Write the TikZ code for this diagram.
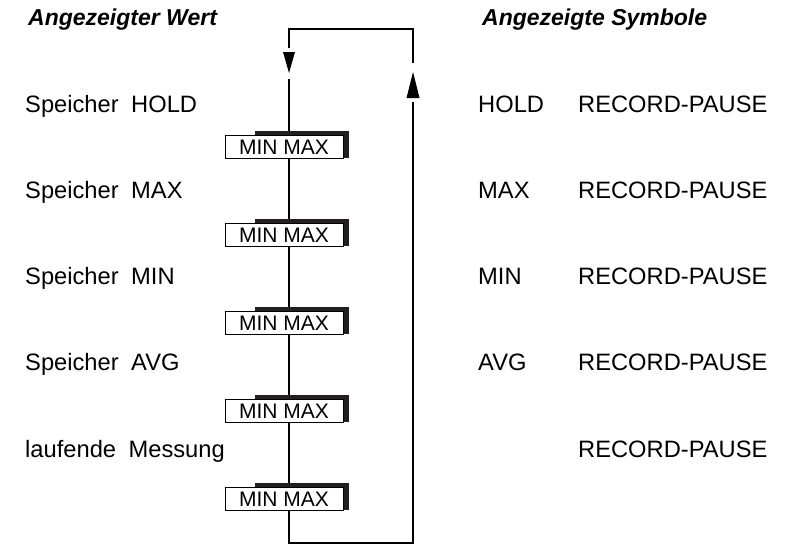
\documentclass[tikz,border=0pt]{standalone}
\usepackage{fontspec}
\setmainfont{Liberation Sans}
\usetikzlibrary{backgrounds}
\definecolor{shadowc}{HTML}{231F20}
\newcommand{\wgap}{\hspace{12.5pt}}
\begin{document}
\begin{tikzpicture}[x=1pt,y=-1pt,
  lbl/.style={anchor=base west,inner sep=0pt,font=\fontsize{23.7}{28}\selectfont},
  head/.style={anchor=base west,inner sep=0pt,font=\fontsize{23}{28}\selectfont\bfseries\itshape},
  btn/.style={draw=black,line width=1pt,fill=white,minimum width=118pt,minimum height=23pt,inner sep=0pt,font=\fontsize{21}{24}\selectfont},
  shade/.style={fill=shadowc},
  flow/.style={line width=1.2pt},
  tipfill/.style={fill=black}]
\useasboundingbox (0,0) rectangle (792,544);
% headings
\node[head] (h1) at (28,25) {Angezeigter Wert};
\node[head] (h2) at (482,25) {Angezeigte Symbole};
% rows
\node[lbl] (l1) at (25,112) {Speicher\wgap HOLD};
\node[lbl] (l2) at (25,198.25) {Speicher\wgap MAX};
\node[lbl] (l3) at (25,284.5) {Speicher\wgap MIN};
\node[lbl] (l4) at (25,370.75) {Speicher\wgap AVG};
\node[lbl] (l5) at (25,457) {laufende\wgap Messung};
\node[lbl] (s1) at (478,112) {HOLD};
\node[lbl] (s2) at (478,198.25) {MAX};
\node[lbl] (s3) at (478,284.5) {MIN};
\node[lbl] (s4) at (478,370.75) {AVG};
\node[lbl] (r1) at (578,112) {RECORD-PAUSE};
\node[lbl] (r2) at (578,198.25) {RECORD-PAUSE};
\node[lbl] (r3) at (578,284.5) {RECORD-PAUSE};
\node[lbl] (r4) at (578,370.75) {RECORD-PAUSE};
\node[lbl] (r5) at (578,457) {RECORD-PAUSE};
% buttons
\foreach \i/\y in {1/147,2/235,3/323,4/411,5/499}{
  \node[btn] (b\i) at (284,\y) {MIN MAX};
}
% loop coordinates
\coordinate (tl) at (289,29);
\coordinate (tr) at (413,29);
\coordinate (bl) at (289,543);
\coordinate (br) at (413,543);
\coordinate (la) at (289,48);
\coordinate (lb) at (289,79);
\coordinate (ra) at (413,63);
\coordinate (rb) at (413,102);
\begin{scope}[on background layer]
  \draw[flow] (la) -- (tl) -- (tr) -- (ra);
  \draw[flow] (rb) -- (br) -- (bl) -- (lb);
  \foreach \i in {1,...,5}{
    \fill[shade] ([xshift=30pt,yshift=4pt]b\i.north west) rectangle ([xshift=5pt,yshift=1pt]b\i.south east);
  }
\end{scope}
% arrowheads
\fill[tipfill] (283,52) -- (295,52) -- (289,73) -- cycle;
\fill[tipfill] (406.5,98) -- (419.5,98) -- (413,72) -- cycle;
\end{tikzpicture}
\end{document}
